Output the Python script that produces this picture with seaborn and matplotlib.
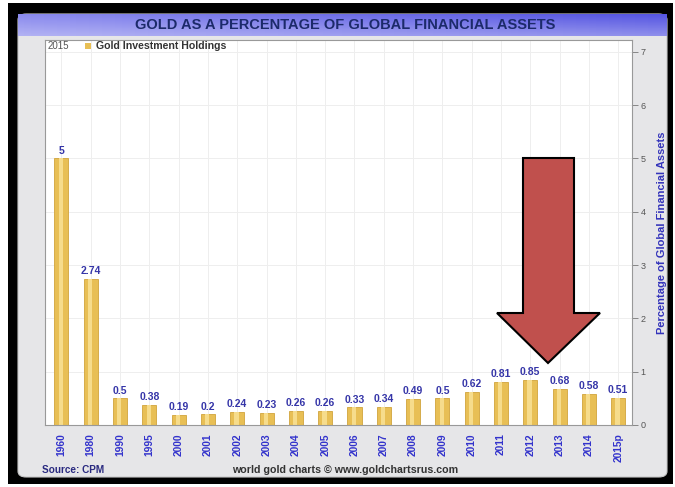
import numpy as np
import pandas as pd
import matplotlib
matplotlib.use("Agg")
import matplotlib.pyplot as plt
from matplotlib.patches import FancyBboxPatch, Rectangle, Polygon
import seaborn as sns

# Gold investment holdings as % of global financial assets
years = ["1960", "1980", "1990", "1995", "2000", "2001", "2002", "2003", "2004",
         "2005", "2006", "2007", "2008", "2009", "2010", "2011", "2012", "2013",
         "2014", "2015p"]
share = [5, 2.74, 0.5, 0.38, 0.19, 0.2, 0.24, 0.23, 0.26, 0.26, 0.33, 0.34,
         0.49, 0.5, 0.62, 0.81, 0.85, 0.68, 0.58, 0.51]
y_ticks = [0, 1, 2, 3, 4, 5, 6, 7]

df = pd.DataFrame({"year": years, "share": share})

W, H = 675, 487
sns.set_theme(style="white")
plt.rcParams["font.family"] = ["Liberation Sans", "DejaVu Sans"]

fig = plt.figure(figsize=(W / 100, H / 100), dpi=100)
fig.patch.set_facecolor("white")


def px(x, y):
    """pixel position (origin top-left) -> figure fraction"""
    return x / W, 1 - y / H


def pbox(x0, y0, x1, y1):
    fx0, fy1 = px(x0, y0)
    fx1, fy0 = px(x1, y1)
    return fx0, fy0, fx1 - fx0, fy1 - fy0


# outer black frame and light grey panel
bx, by, bw, bh = pbox(8, 3, 673, 484)
fig.patches.append(Rectangle((bx, by), bw, bh, transform=fig.transFigure,
                             facecolor="black", edgecolor="none", zorder=0))
gx, gy, gw, gh = pbox(18, 14, 667, 477)
fig.patches.append(FancyBboxPatch((gx, gy), gw, gh, transform=fig.transFigure,
                                  boxstyle="round,pad=0,rounding_size=0.012",
                                  facecolor="#e6e6e8", edgecolor="#c8c8c8",
                                  lw=0.8, zorder=0.5))

# header bar with gradient
hx, hy, hw, hh = pbox(18, 14, 667, 36)
hax = fig.add_axes([hx, hy, hw, hh], zorder=1)
grad = np.linspace(0, 1, 100)[None, :]
cmap = matplotlib.colors.LinearSegmentedColormap.from_list(
    "hdr", ["#8a8aee", "#6e6ee8", "#5555e2"])
hax.imshow(grad, aspect="auto", cmap=cmap, extent=[0, 1, 0, 1])
vert = np.linspace(0, 1, 50)[:, None]
hax.imshow(np.ones((50, 1)), aspect="auto", extent=[0, 1, 0, 1],
           cmap=matplotlib.colors.ListedColormap(["white"]),
           alpha=(0.35 * vert) * np.ones((50, 1)))
hax.set_xlim(0, 1)
hax.set_ylim(0, 1)
hax.axis("off")
fig.text(*px(345, 25), "GOLD AS A PERCENTAGE OF GLOBAL FINANCIAL ASSETS",
         ha="center", va="center", fontsize=10.5, fontweight="bold",
         color="#1c2a6a", zorder=3)

# main plot area
ax = fig.add_axes(list(pbox(45, 40, 632, 425)), zorder=2)
ax.set_facecolor("white")
sns.barplot(data=df, x="year", y="share", ax=ax, color="#e8bf55",
            width=0.48, edgecolor="#d1a43c", linewidth=0.6, saturation=1)
# soft highlight down the middle of each bar
for p in ax.patches:
    ax.add_patch(Rectangle((p.get_x() + p.get_width() * 0.3, 0),
                           p.get_width() * 0.3, p.get_height(),
                           facecolor="#f6dc8c", edgecolor="none", zorder=p.get_zorder() + 0.1))

ax.bar_label(ax.containers[0], labels=[f"{v:g}" for v in share], padding=2,
             fontsize=7.5, fontweight="bold", color="#3535a8")

ax.set_xlim(-0.56, 19.47)
ax.set_ylim(0, 7.22)
ax.yaxis.tick_right()
ax.yaxis.set_label_position("right")
ax.set_yticks(y_ticks)
ax.set_yticklabels([str(t) for t in y_ticks], fontsize=6.5, color="#555555")
ax.tick_params(axis="y", direction="out", length=4, width=0.6, color="#777777", pad=2)
ax.tick_params(axis="x", direction="out", length=3, width=0.6, color="#777777",
               pad=3, labelsize=7.4, labelrotation=90, labelcolor="#3333cc")
for lbl in ax.get_xticklabels():
    lbl.set_fontweight("bold")
ax.set_xlabel("")
ax.set_ylabel("Percentage of Global Financial Assets", fontsize=8,
              fontweight="bold", color="#3333bb", labelpad=8)
ax.grid(True, color="#eeeeee", lw=0.7)
ax.set_axisbelow(True)
for s in ax.spines.values():
    s.set_color("#999999")
    s.set_linewidth(0.8)

# legend line
fig.text(*px(48, 46), "2015", ha="left", va="center", fontsize=7,
         color="#555555", zorder=3)
lx, ly, lw_, lh = pbox(85, 43, 91, 49)
fig.patches.append(Rectangle((lx, ly), lw_, lh, transform=fig.transFigure,
                             facecolor="#e8bf55", edgecolor="none", zorder=3))
fig.text(*px(96, 46), "Gold Investment Holdings", ha="left", va="center",
         fontsize=7.6, fontweight="bold", color="#333333", zorder=3)

# footer
fig.text(*px(42, 470), "Source: CPM", ha="left", va="center", fontsize=7.2,
         fontweight="bold", color="#2a2a80")
fig.text(*px(345, 470), "world gold charts \u00a9 www.goldchartsrus.com",
         ha="center", va="center", fontsize=7.7, fontweight="bold", color="#333333")

# big downward arrow
arrow_px = [(523, 158), (574, 158), (574, 313), (600, 313), (548, 363),
            (497, 313), (523, 313)]
fig.patches.append(Polygon([px(x, y) for x, y in arrow_px], closed=True,
                           transform=fig.transFigure, facecolor="#c0504d",
                           edgecolor="black", lw=1.5, zorder=5))

fig.savefig("out.png", dpi=100)
